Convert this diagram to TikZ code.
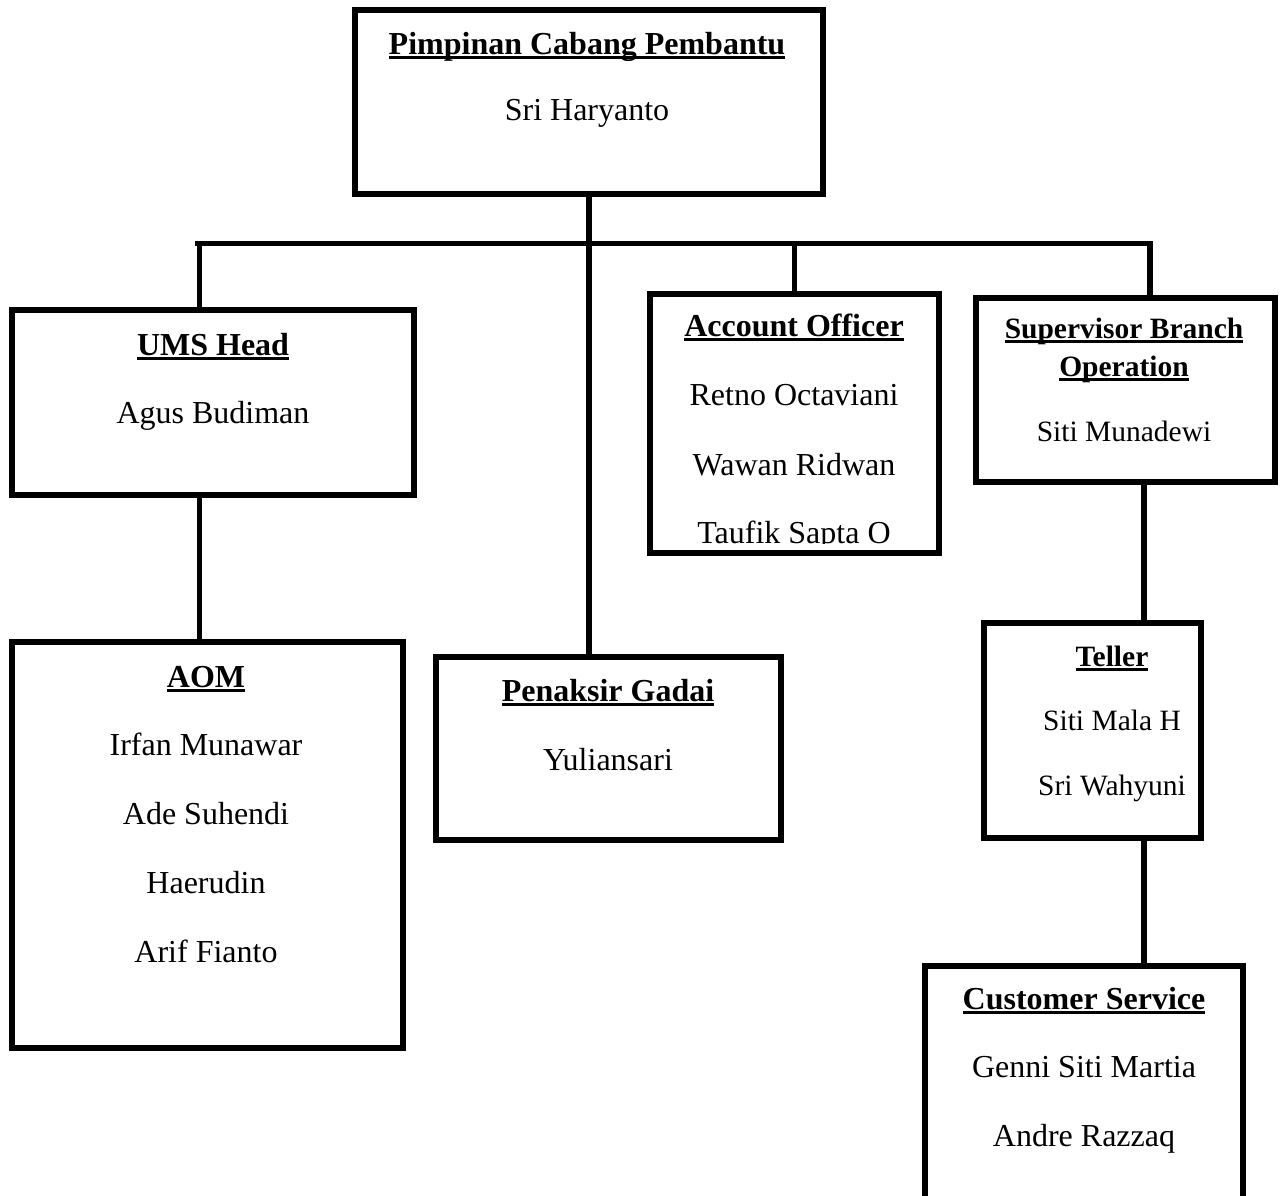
\documentclass[tikz,border=0pt]{standalone}
\usepackage{fontspec}
\setmainfont{Liberation Serif}
\usetikzlibrary{fit}
\newsavebox\ulsavebox
\newcommand\ulbf[1]{\sbox\ulsavebox{\bfseries #1}\rlap{\rule[-2.4pt]{\wd\ulsavebox}{1.4pt}}\usebox\ulsavebox}
\tikzset{
  orgbox/.style={draw, line width=2.9pt, inner sep=0pt},
  txtbig/.style={anchor=base, inner sep=0pt, font=\fontsize{16pt}{19pt}\selectfont},
  txtsm/.style={anchor=base, inner sep=0pt, font=\fontsize{14.75pt}{17pt}\selectfont},
  conn/.style={line width=2.9pt},
}
\begin{document}
\begin{tikzpicture}[x=0.5pt,y=-0.5pt]
\clip (0,0) rectangle (1283,1195);
\fill[white] (0,0) rectangle (1283,1195);
% boxes
\node[orgbox, fit={(355,10)(823,194)}] (top) {};
\node[orgbox, fit={(12,310)(414,495)}] (ums) {};
\node[orgbox, fit={(12,642)(403,1048)}] (aom) {};
\node[orgbox, fit={(436,657)(781,840)}] (pen) {};
\node[orgbox, fit={(650,294)(939,553)}] (ao) {};
\node[orgbox, fit={(976,298)(1275,482)}] (sup) {};
\node[orgbox, fit={(984,623)(1201,838)}] (tel) {};
\node[orgbox, fit={(925,966)(1243,1230)}] (cs) {};
% connectors
\coordinate (busL) at (195,243.5);
\coordinate (busR) at (1153,243.5);
\coordinate (umsx) at (199.5,243.5);
\coordinate (supx) at (1150,243.5);
\coordinate (telx) at (1144,0);
\draw[conn] (busL) -- (busR);
\draw[conn] (top.south) -- (top.south |- pen.north);
\draw[conn] (umsx) -- (umsx |- ums.north);
\draw[conn] (ums.south -| umsx) -- (umsx |- aom.north);
\draw[conn] (ao.north |- busL) -- (ao.north);
\draw[conn] (supx) -- (supx |- sup.north);
\draw[conn] (sup.south -| telx) -- (telx |- tel.north);
\draw[conn] (tel.south -| telx) -- (telx |- cs.north);
% texts
\node[txtbig] (t1) at (587,54) {\ulbf{Pimpinan Cabang Pembantu}};
\node[txtbig] (t2) at (587,120) {Sri Haryanto};
\node[txtbig] (u1) at (213,355) {\ulbf{UMS Head}};
\node[txtbig] (u2) at (213,423) {Agus Budiman};
\node[txtbig] (a1) at (794,336) {\ulbf{Account Officer}};
\node[txtbig] (a2) at (794,405) {Retno Octaviani};
\node[txtbig] (a3) at (794,475) {Wawan Ridwan};
\begin{scope}
\clip (650,294) rectangle (939,543);
\node[txtbig] (a4) at (794,543) {Taufik Sapta O};
\end{scope}
\node[txtsm] (s1) at (1124,338) {\ulbf{Supervisor Branch}};
\node[txtsm] (s2) at (1124,376) {\ulbf{Operation}};
\node[txtsm] (s3) at (1124,441) {Siti Munadewi};
\node[txtsm] (e1) at (1112,666) {\ulbf{Teller}};
\node[txtsm] (e2) at (1112,730) {Siti Mala H};
\node[txtsm] (e3) at (1112,795) {Sri Wahyuni};
\node[txtbig] (m1) at (206,687) {\ulbf{AOM}};
\node[txtbig] (m2) at (206,755) {Irfan Munawar};
\node[txtbig] (m3) at (206,824) {Ade Suhendi};
\node[txtbig] (m4) at (206,893) {Haerudin};
\node[txtbig] (m5) at (206,962) {Arif Fianto};
\node[txtbig] (p1) at (608,701) {\ulbf{Penaksir Gadai}};
\node[txtbig] (p2) at (608,770) {Yuliansari};
\node[txtbig] (c1) at (1084,1009) {\ulbf{Customer Service}};
\node[txtbig] (c2) at (1084,1077) {Genni Siti Martia};
\node[txtbig] (c3) at (1084,1146) {Andre Razzaq};
\end{tikzpicture}
\end{document}
